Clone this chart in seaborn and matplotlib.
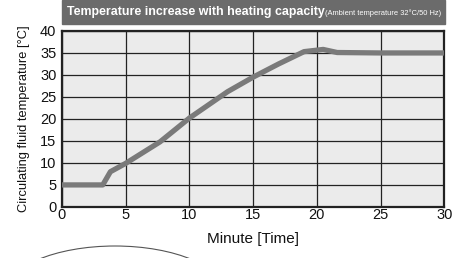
import numpy as np
import pandas as pd
import matplotlib
matplotlib.use("Agg")
import matplotlib.pyplot as plt
import seaborn as sns
from matplotlib.patches import Rectangle, Arc

# data
minutes = [0, 3.2, 3.8, 5.0, 7.7, 10.0, 13.0, 15.0, 17.0, 19.0, 20.5, 21.6, 25.0, 30.0]
temps = [5.0, 5.0, 8.0, 9.9, 14.8, 20.2, 26.2, 29.5, 32.5, 35.3, 35.8, 35.1, 35.0, 35.0]
x_ticks = [0, 5, 10, 15, 20, 25, 30]
y_ticks = [0, 5, 10, 15, 20, 25, 30, 35, 40]

df = pd.DataFrame({"Minute": minutes, "Temp": temps})

sns.set_style("white")
plt.rcParams["font.family"] = ["Liberation Sans", "DejaVu Sans"]

fig = plt.figure(figsize=(4.65, 2.58), dpi=100)
ax = fig.add_axes([0.1333, 0.198, 0.822, 0.682])
ax.set_facecolor("#ebebeb")

sns.lineplot(data=df, x="Minute", y="Temp", ax=ax, color="#7a7a7a",
             linewidth=3.8, solid_capstyle="butt", zorder=3)

ax.set_xlim(0, 30)
ax.set_ylim(0, 40)
ax.set_xticks(x_ticks)
ax.set_yticks(y_ticks)
ax.grid(True, color="#222222", linewidth=0.9)
ax.set_axisbelow(True)
for s in ax.spines.values():
    s.set_color("#222222")
    s.set_linewidth(1.6)
    s.set_visible(True)
ax.tick_params(axis="both", length=0, labelsize=10.5, colors="#111111")
ax.tick_params(axis="x", pad=1)
ax.tick_params(axis="y", pad=4)

ax.set_xlabel("Minute [Time]", fontsize=11, labelpad=7, color="#111111")
ax.set_ylabel("Circulating fluid temperature [°C]", fontsize=9.3,
              labelpad=7, color="#111111")

# title bar
fig.patches.append(Rectangle((62 / 465, 1 - 24 / 258), (445 - 62) / 465, 24 / 258,
                             transform=fig.transFigure, color="#6b6b6b", zorder=0))
fig.text(67 / 465, 1 - 12 / 258, "Temperature increase with heating capacity",
         color="white", fontsize=8.9, fontweight="bold",
         ha="left", va="center")
fig.text(441 / 465, 1 - 13 / 258, "(Ambient temperature 32°C/50 Hz)",
         color="white", fontsize=5.4, ha="right", va="center")

# decorative arc at the bottom
fig.patches.append(Arc((115 / 465, -0.138), 0.473, 0.369, theta1=0, theta2=180,
                       transform=fig.transFigure, color="#555555", linewidth=0.8))

fig.savefig("out.png", dpi=100)
